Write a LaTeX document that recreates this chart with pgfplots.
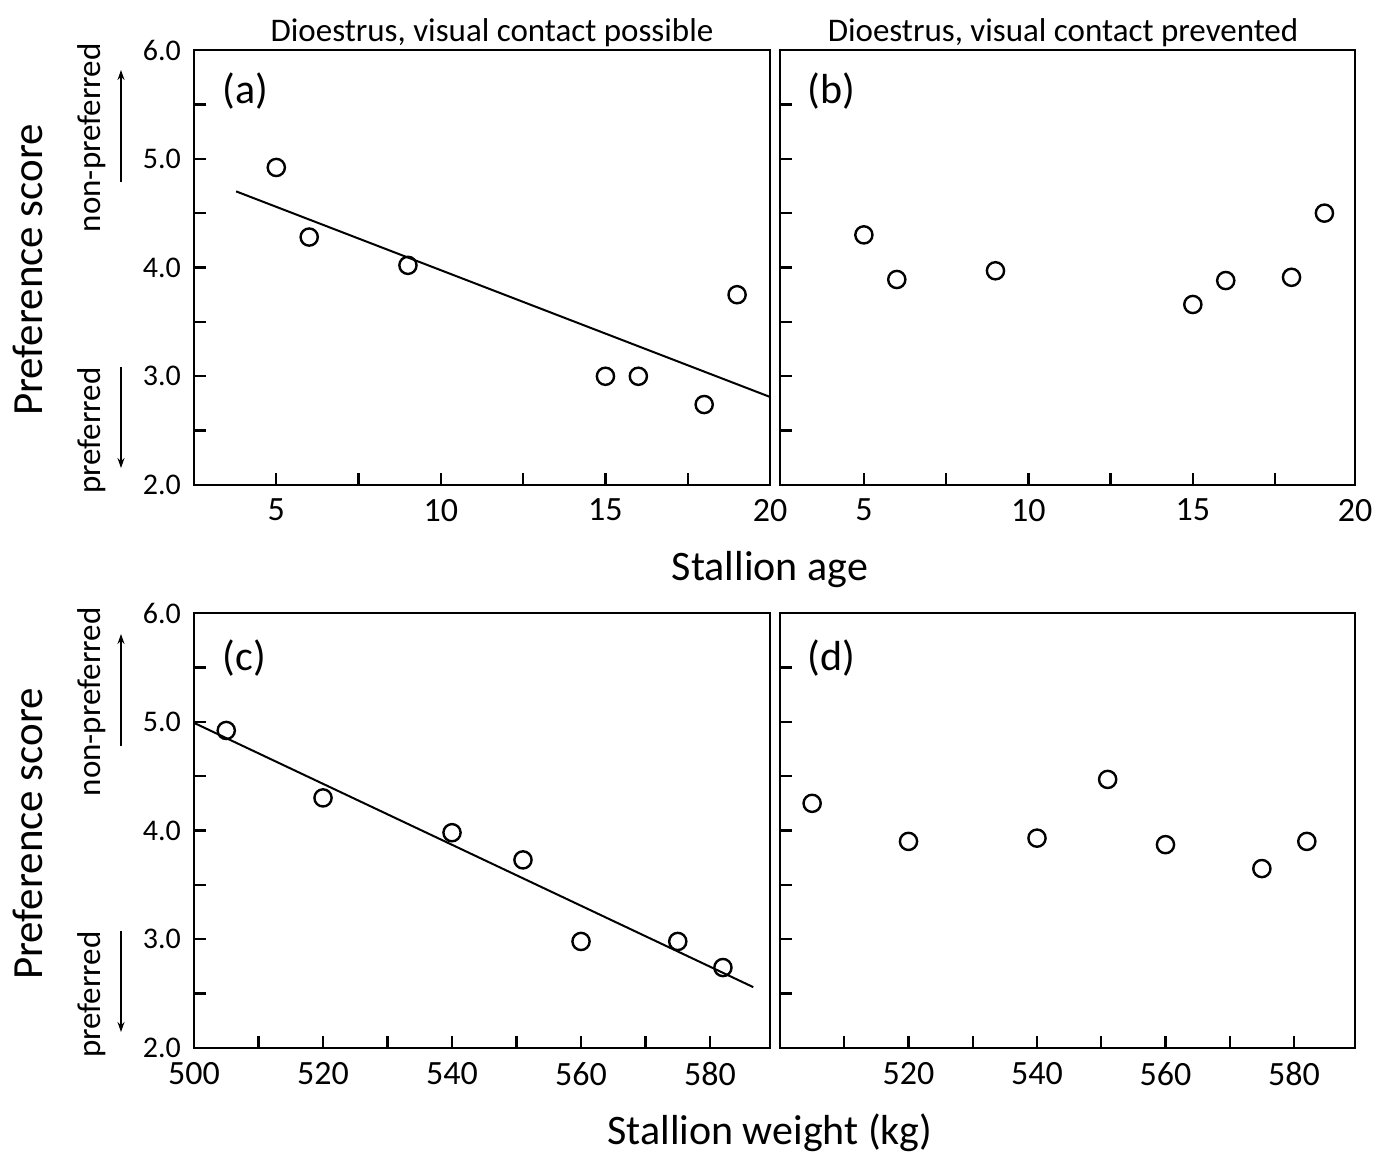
\documentclass[border=0pt]{standalone}
\usepackage{pgfplots}
\pgfplotsset{compat=1.18}
\usepackage{fontspec}
\setmainfont{Carlito}
\usetikzlibrary{arrows.meta}

\pgfplotsset{
  panel/.style={
    scale only axis,
    height=217.5pt,
    ymin=2, ymax=6,
    ytick={2,2.5,3,3.5,4,4.5,5,5.5,6},
    axis line style={line width=1.3pt},
    tick pos=left, tick align=inside,
    major tick length=6pt,
    every tick/.style={black, line width=1.2pt},
    /pgf/number format/assume math mode=true,
    yticklabel style={font=\fontsize{15}{18}\selectfont, xshift=-3pt},
    xticklabel style={font=\fontsize{17}{20}\selectfont, yshift=-3.5pt},
    clip=true,
  },
  dots/.style={only marks, mark=o, mark size=4.3pt,
    mark options={fill=white, line width=1.2pt}, black},
  fit/.style={black, line width=1pt, no marks},
}
\tikzset{tag/.style={font=\fontsize{21}{24}\selectfont, anchor=west, inner sep=0pt}}

\begin{document}
\begin{tikzpicture}
\useasboundingbox (0,0) rectangle (692pt,-579pt);

% (a) age, visual contact possible
\begin{axis}[panel, at={(97pt,-242.5pt)}, anchor=south west, width=288pt,
  xmin=2.5, xmax=20,
  xtick={5,7.5,10,12.5,15,17.5,20}, xticklabels={5,,10,,15,,20},
  yticklabels={2.0,,3.0,,4.0,,5.0,,6.0}]
\addplot[fit] coordinates {(3.78,4.70) (20,2.81)};
\addplot[dots] table {
x y
5 4.92
6 4.28
9 4.02
15 3.00
16 3.00
18 2.74
19 3.75
};
\node[tag] at (axis description cs:0.049,0.905) {(a)};
\end{axis}

% (b) age, visual contact prevented
\begin{axis}[panel, at={(390pt,-242.5pt)}, anchor=south west, width=287.5pt,
  xmin=2.45, xmax=19.93,
  xtick={5,7.5,10,12.5,15,17.5,19.93}, xticklabels={5,,10,,15,,20},
  yticklabels={}]
\addplot[dots] table {
x y
5 4.30
6 3.89
9 3.97
15 3.66
16 3.88
18 3.91
19 4.50
};
\node[tag] at (axis description cs:0.047,0.905) {(b)};
\end{axis}

% (c) weight, visual contact possible
\begin{axis}[panel, at={(97pt,-524pt)}, anchor=south west, width=288pt,
  xmin=500, xmax=589.3,
  xtick={500,510,...,580}, xticklabels={500,,520,,540,,560,,580},
  yticklabels={2.0,,3.0,,4.0,,5.0,,6.0}]
\addplot[fit] coordinates {(500,4.99) (586.7,2.56)};
\addplot[dots] table {
x y
505 4.92
520 4.30
540 3.98
551 3.73
560 2.98
575 2.98
582 2.74
};
\node[tag] at (axis description cs:0.049,0.896) {(c)};
\end{axis}

% (d) weight, visual contact prevented
\begin{axis}[panel, at={(390pt,-524pt)}, anchor=south west, width=287.5pt,
  xmin=500, xmax=589.5,
  xtick={500,510,...,580}, xticklabels={,,520,,540,,560,,580},
  yticklabels={}]
\addplot[dots] table {
x y
505 4.25
520 3.90
540 3.93
551 4.47
560 3.87
575 3.65
582 3.90
};
\node[tag] at (axis description cs:0.047,0.896) {(d)};
\end{axis}

% titles and shared labels
\node[anchor=base, font=\fontsize{16.5}{20}\selectfont] at (246pt,-20.5pt) {Dioestrus, visual contact possible};
\node[anchor=base, font=\fontsize{16.5}{20}\selectfont] at (531.5pt,-20.5pt) {Dioestrus, visual contact prevented};
\node[anchor=base, font=\fontsize{21}{25}\selectfont] at (385pt,-290pt) {Stallion age};
\node[anchor=base, font=\fontsize{21}{25}\selectfont] at (385pt,-572pt) {Stallion weight (kg)};

\foreach \dy in {0pt,282pt} {
  \node[rotate=90, font=\fontsize{21.5}{25}\selectfont] at (14pt,{-135pt-\dy}) {Preference score};
  \node[rotate=90, anchor=east, inner sep=0pt, font=\fontsize{16.5}{19}\selectfont] at (45.75pt,{-21.5pt-\dy}) {non-preferred};
  \node[rotate=90, anchor=east, inner sep=0pt, font=\fontsize{16.5}{19}\selectfont] at (45.75pt,{-183.5pt-\dy}) {preferred};
  \draw[line width=0.7pt, -{Stealth[length=5pt,width=3.5pt]}] (60.5pt,{-91pt-\dy}) -- (60.5pt,{-35pt-\dy});
  \draw[line width=0.7pt, -{Stealth[length=5pt,width=3.5pt]}] (60.5pt,{-183.5pt-\dy}) -- (60.5pt,{-234pt-\dy});
}
\end{tikzpicture}
\end{document}
